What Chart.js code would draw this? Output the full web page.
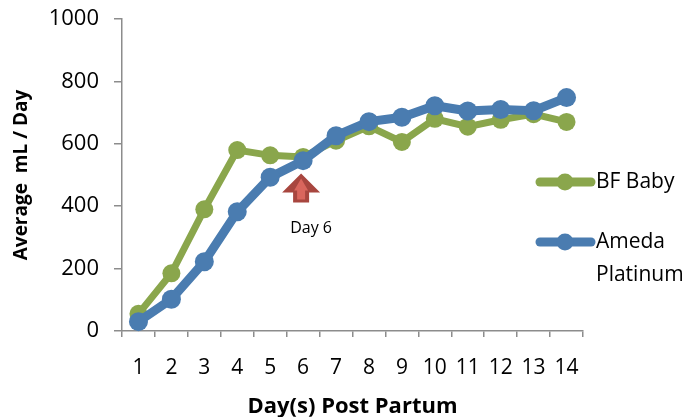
<!DOCTYPE html>
<html>
<head>
<meta charset="utf-8">
<script src="https://cdn.jsdelivr.net/npm/chart.js@4.4.1/dist/chart.umd.min.js"></script>
<style>
  html, body { margin: 0; padding: 0; background: #fff; }
  #wrap { width: 694px; height: 417px; position: relative; }
</style>
</head>
<body>
<div id="wrap"><canvas id="milkChart"></canvas></div>
<script>
const days = ['1', '2', '3', '4', '5', '6', '7', '8', '9', '10', '11', '12', '13', '14'];
const bfBaby = [55, 185, 390, 580, 563, 558, 610, 656, 606, 680, 655, 677, 695, 670];
const amedaPlatinum = [30, 102, 222, 382, 493, 546, 626, 671, 685, 722, 705, 710, 706, 748];
const yTicks = [0, 200, 400, 600, 800, 1000];

const GREEN = '#8aa64c';
const BLUE = '#4a7cb0';
const AXIS = '#8c8c8c';
const FONT = "'Open Sans', sans-serif";

// arrow + "Day 6" note, placed through the scales
const noteDay = '6';
const noteText = 'Day 6';

const notePlugin = {
    id: 'dayNote',
    afterDatasetsDraw(chart) {
        const ctx = chart.ctx;
        const xs = chart.scales.x, ys = chart.scales.y;
        const cx = xs.getPixelForValue(days.indexOf(noteDay)) - 2;
        const top = ys.getPixelForValue(505);
        const headY = top + 19, bottom = top + 29;

        ctx.save();
        ctx.beginPath();
        ctx.moveTo(cx, top);
        ctx.lineTo(cx + 19, headY);
        ctx.lineTo(cx + 8, headY);
        ctx.lineTo(cx + 8, bottom);
        ctx.lineTo(cx - 8, bottom);
        ctx.lineTo(cx - 8, headY);
        ctx.lineTo(cx - 19, headY);
        ctx.closePath();
        ctx.fillStyle = '#a8463f';
        ctx.fill();

        ctx.beginPath();
        ctx.moveTo(cx, top + 5);
        ctx.lineTo(cx + 7, headY - 2);
        ctx.lineTo(cx + 4, headY - 2);
        ctx.lineTo(cx + 4, bottom - 3);
        ctx.lineTo(cx - 4, bottom - 3);
        ctx.lineTo(cx - 4, headY - 2);
        ctx.lineTo(cx - 7, headY - 2);
        ctx.closePath();
        ctx.fillStyle = '#d9665d';
        ctx.fill();

        ctx.fillStyle = '#000';
        ctx.font = '16px ' + FONT;
        ctx.textAlign = 'center';
        ctx.textBaseline = 'middle';
        ctx.fillText(noteText, cx + 10, ys.getPixelForValue(330));
        ctx.restore();
    }
};

const legendPlugin = {
    id: 'sideLegend',
    afterDraw(chart) {
        const ctx = chart.ctx;
        const items = [
            { lines: ['BF Baby'], color: GREEN, y: 182 },
            { lines: ['Ameda', 'Platinum'], color: BLUE, y: 242 }
        ];
        ctx.save();
        ctx.font = '21px ' + FONT;
        ctx.textBaseline = 'middle';
        ctx.textAlign = 'left';
        items.forEach(it => {
            ctx.strokeStyle = it.color;
            ctx.lineWidth = 9;
            ctx.lineCap = 'round';
            ctx.beginPath();
            ctx.moveTo(540, it.y);
            ctx.lineTo(591, it.y);
            ctx.stroke();
            ctx.fillStyle = it.color;
            ctx.beginPath();
            ctx.arc(565, it.y, 8.5, 0, Math.PI * 2);
            ctx.fill();
            ctx.fillStyle = '#000';
            it.lines.forEach((t, i) => ctx.fillText(t, 596, it.y + i * 33));
        });
        ctx.restore();
    }
};

new Chart(document.getElementById('milkChart'), {
    type: 'line',
    data: {
        labels: days,
        datasets: [
            {
                label: 'BF Baby',
                data: bfBaby,
                borderColor: GREEN,
                backgroundColor: GREEN,
                borderWidth: 7,
                pointRadius: 9,
                pointBorderWidth: 0,
                tension: 0,
                clip: false,
                order: 2
            },
            {
                label: 'Ameda Platinum',
                data: amedaPlatinum,
                borderColor: BLUE,
                backgroundColor: BLUE,
                borderWidth: 9,
                pointRadius: 9.5,
                pointBorderWidth: 0,
                tension: 0,
                clip: false,
                order: 1
            }
        ]
    },
    options: {
        responsive: true,
        maintainAspectRatio: false,
        animation: false,
        layout: { autoPadding: false, padding: { top: 19, right: 111, left: 0, bottom: 0 } },
        scales: {
            x: {
                type: 'category',
                offset: true,
                grid: { offset: true, drawOnChartArea: false, drawTicks: true, tickLength: 6, color: AXIS, lineWidth: 1.5 },
                border: { color: AXIS, width: 1.5 },
                ticks: { color: '#000', font: { family: FONT, size: 21 }, padding: 18, maxRotation: 0, autoSkip: false },
                title: { display: true, text: 'Day(s) Post Partum', color: '#000', font: { family: FONT, size: 22, weight: 'bold' }, padding: { top: 0, bottom: -3 } },
                afterFit(s) { s.height = 86; s.paddingLeft = 0; s.paddingRight = 0; }
            },
            y: {
                min: 0,
                max: 1000,
                afterBuildTicks(s) { s.ticks = yTicks.map(v => ({ value: v })); },
                grid: { drawOnChartArea: false, drawTicks: true, tickLength: 8, color: AXIS, lineWidth: 1.5 },
                border: { color: AXIS, width: 1.5 },
                ticks: { color: '#000', font: { family: FONT, size: 22 }, padding: 15, callback: v => String(v) },
                title: { display: true, text: 'Average  mL / Day', color: '#000', font: { family: FONT, size: 19, weight: 'bold' }, padding: { top: 10, bottom: 0 } },
                // tick padding would otherwise push the plot top down
                afterFit(s) { s.width = 122; s.paddingTop = 0; s.paddingBottom = 0; }
            }
        },
        plugins: {
            legend: { display: false },
            tooltip: { enabled: false }
        }
    },
    plugins: [notePlugin, legendPlugin]
});
</script>
</body>
</html>
